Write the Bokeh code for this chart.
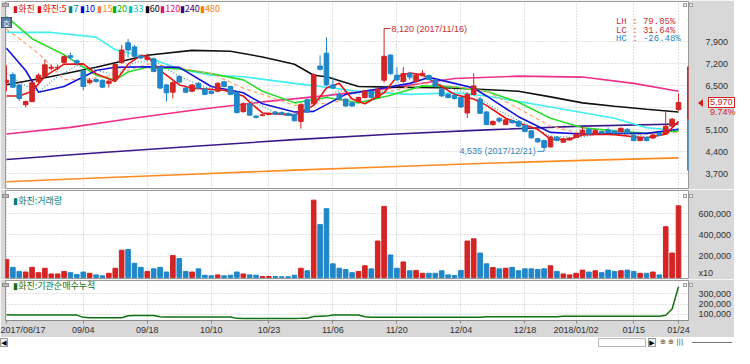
import numpy as np
from bokeh.plotting import figure
from bokeh.layouts import column
from bokeh.models import FixedTicker, Range1d, Label, Div, NumeralTickFormatter
from bokeh.embed import file_html
from bokeh.resources import INLINE

# ---------------- data ----------------
tick_idx = [0, 12, 22, 32, 41, 51, 61, 71, 81, 89, 98, 105]
tick_labels = ["2017/08/17", "09/04", "09/18", "10/10", "10/23", "11/06",
               "11/20", "12/04", "12/18", "2018/01/02", "01/15", "01/24"]

opens = [6610, 6860, 6530, 5900, 6000, 6630, 6800, 7060, 7070, 7240,
         7460, 7300, 6980, 6600, 6700, 6680, 6580, 6700, 7240, 7870,
         7740, 7440, 7340, 7360, 7080, 6530, 6300, 6800, 6430, 6330,
         6580, 6400, 6330, 6330, 6630, 6480, 6280, 5680, 5930, 5540,
         5560, 5590, 5670, 5650, 5620, 5590, 5370, 6060, 5930, 7130,
         7540, 6530, 6230, 6080, 5960, 6000, 6130, 6330, 6130, 6680,
         7480, 6840, 6640, 6900, 6640, 6840, 6830, 6690, 6400, 6230,
         6200, 6130, 5640, 6230, 6080, 5670, 5270, 5470, 5270, 5400,
         5370, 5240, 5070, 4820, 4760, 4560, 4870, 4710, 4780, 4860,
         4990, 5120, 4970, 5050, 5100, 5060, 5050, 5120, 4920, 4760,
         4860, 4840, 4990, 4970, 5220, 5750]
highs = [7150, 6930, 6560, 6030, 6640, 6900, 7330, 7180, 7180, 7470,
         7560, 7340, 7000, 6750, 6760, 6700, 6700, 7220, 7800, 7990,
         7800, 7480, 7520, 7400, 7100, 6560, 6650, 6850, 6480, 6560,
         6620, 6430, 6360, 6620, 6650, 6500, 6330, 5980, 5960, 5560,
         5620, 5650, 5700, 5690, 5660, 5620, 5950, 6100, 6900, 7470,
         8040, 6780, 6300, 6100, 6000, 6160, 6380, 6350, 6450, 8120,
         7500, 7100, 7100, 6950, 6900, 7000, 6860, 6720, 6430, 6260,
         6220, 6150, 6300, 6900, 6150, 5700, 5400, 5500, 5450, 5430,
         5400, 5260, 5090, 4850, 4790, 4900, 4900, 4840, 4870, 5000,
         5190, 5150, 5120, 5080, 5180, 5090, 5180, 5150, 4940, 4880,
         4880, 4970, 5010, 5690, 5480, 6260]
lows = [6330, 6430, 6020, 5820, 5980, 6600, 6780, 6990, 7000, 7200,
        7350, 7150, 6360, 6550, 6600, 6430, 6450, 6680, 7200, 7400,
        7400, 7340, 7300, 6930, 6400, 6000, 6100, 6580, 6260, 6300,
        6400, 6200, 6230, 6300, 6450, 6200, 5620, 5650, 5540, 5460,
        5530, 5560, 5580, 5580, 5540, 5370, 5140, 5640, 5900, 6980,
        6500, 6400, 6050, 5830, 5840, 5980, 6100, 6100, 6100, 6600,
        6850, 6650, 6600, 6700, 6600, 6800, 6680, 6450, 6150, 6100,
        6060, 5800, 5480, 6200, 5600, 5250, 5230, 5330, 5250, 5300,
        5200, 5020, 4820, 4690, 4535, 4540, 4740, 4690, 4760, 4840,
        4970, 4950, 4950, 4980, 5000, 4980, 5030, 4990, 4740, 4740,
        4740, 4820, 4910, 4950, 5200, 5700]
closes = [6680, 6460, 6100, 6000, 6600, 6840, 7170, 7090, 7090, 7430,
          7410, 7240, 6480, 6680, 6640, 6460, 6650, 7180, 7640, 7640,
          7440, 7390, 7420, 6960, 6430, 6280, 6600, 6620, 6300, 6530,
          6430, 6230, 6260, 6580, 6480, 6230, 5650, 5930, 5570, 5500,
          5580, 5610, 5600, 5600, 5560, 5390, 5900, 5670, 6860, 7030,
          6530, 6430, 6080, 5860, 5860, 6130, 6330, 6130, 6400, 7440,
          6890, 6690, 6890, 6780, 6840, 6900, 6700, 6480, 6180, 6130,
          6100, 5830, 6230, 6500, 5630, 5270, 5370, 5380, 5420, 5330,
          5220, 5050, 4850, 4720, 4540, 4870, 4760, 4810, 4840, 4960,
          5090, 4970, 5090, 5000, 5020, 5000, 5150, 5010, 4760, 4850,
          4760, 4940, 4930, 5220, 5440, 5970]
volumes = [170000, 95000, 57000, 51000, 95000, 45000, 87000, 33000, 33000, 57000,
           45000, 27000, 51000, 39000, 24000, 15000, 39000, 87000, 257000, 263000,
           134000, 95000, 57000, 81000, 95000, 51000, 206000, 179000, 57000, 51000,
           81000, 21000, 15000, 24000, 15000, 21000, 51000, 33000, 24000, 21000,
           9000, 9000, 9000, 6000, 6000, 21000, 87000, 63000, 728000, 498000,
           648000, 128000, 87000, 75000, 45000, 57000, 110000, 81000, 343000, 669000,
           212000, 87000, 146000, 63000, 66000, 39000, 39000, 39000, 63000, 24000,
           18000, 66000, 343000, 364000, 230000, 128000, 93000, 81000, 87000, 95000,
           63000, 81000, 81000, 75000, 81000, 110000, 57000, 33000, 24000, 39000,
           69000, 51000, 63000, 45000, 69000, 57000, 63000, 69000, 57000, 39000,
           39000, 51000, 24000, 478000, 230000, 675000]
inst_cum = [95000, 94000, 94000, 94000, 94000, 93000, 93000, 93000, 94000, 94000,
            93000, 92000, 70000, 66000, 65000, 65000, 65000, 65000, 66000, 86000,
            89000, 89000, 89000, 88000, 76000, 74000, 74000, 74000, 74000, 74000,
            74000, 74000, 73000, 74000, 74000, 73000, 60000, 59000, 59000, 59000,
            59000, 59000, 59000, 59000, 59000, 59000, 60000, 62000, 78000, 80000,
            82000, 92000, 94000, 94000, 94000, 93000, 75000, 71000, 71000, 71000,
            71000, 71000, 71000, 71000, 71000, 71000, 71000, 71000, 71000, 71000,
            71000, 71000, 71000, 71000, 72000, 76000, 77000, 77000, 77000, 77000,
            77000, 77000, 77000, 77000, 77000, 77000, 77000, 80000, 80000, 80000,
            80000, 80000, 80000, 80000, 80000, 80000, 80000, 80000, 80000, 80000,
            80000, 80000, 80000, 91000, 152000, 370000]

ma5_x = [0, 2, 4, 6, 9, 12, 14, 17, 19, 21, 22, 24, 27, 29, 34, 37, 38, 40, 45, 48, 50, 52,
         54, 56, 59, 61, 63, 65, 68, 70, 73, 75, 78, 80, 83, 85, 88, 90, 93, 95, 98, 100, 103, 105]
ma5_y = [6180, 6180, 6330, 6800, 7190, 7200, 6890, 6640, 7190, 7470, 7440, 6990, 6530, 6430,
         6360, 6180, 5980, 5640, 5570, 5880, 6430, 6580, 6080, 5930, 6280, 6790, 6910, 6850,
         6480, 6230, 6080, 5880, 5470, 5320, 5120, 4810, 4800, 4940, 4960, 4950, 4880, 4850,
         4960, 5370]
ma7_x = [0, 3, 5, 8, 11, 14, 17, 20, 23, 27, 31, 35, 38, 42, 46, 49, 52, 56, 59, 62, 65, 69,
         73, 77, 81, 85, 89, 93, 97, 101, 105]
ma7_y = [6900, 6500, 6300, 6800, 7150, 7000, 6850, 7250, 7300, 6800, 6450, 6350, 6050, 5650,
         5600, 6050, 6350, 6200, 6350, 6700, 6800, 6450, 6200, 5700, 5300, 4900, 4850, 4980,
         4980, 4860, 5150]
ma10_x = [0, 3, 5, 9, 14, 17, 22, 27, 32, 37, 40, 45, 48, 53, 58, 63, 66, 70, 73, 75, 80, 85,
          90, 95, 100, 105]
ma10_y = [7700, 6990, 6300, 6480, 6990, 7090, 7110, 7090, 6480, 6280, 5930, 5670, 5690, 6230,
          6400, 6580, 6770, 6580, 6430, 6180, 5520, 5020, 4970, 4990, 4990, 5120]
ma15_x = [0, 4, 6, 9, 12, 17, 22, 27, 32, 37, 40, 45, 50, 55, 60, 65, 70, 75, 80, 85, 90, 95,
          100, 105]
ma15_y = [8300, 7700, 7340, 6700, 6700, 6850, 7200, 7080, 6890, 6430, 6230, 5880, 5950, 6130,
          6330, 6580, 6480, 6330, 5780, 5220, 4970, 4950, 4970, 5020]
ma20_x = [0, 4, 9, 14, 17, 19, 22, 27, 32, 37, 40, 45, 50, 55, 60, 65, 70, 73, 75, 80, 85, 90,
          95, 100, 105]
ma20_y = [8700, 8000, 7490, 6840, 6690, 6940, 7090, 7040, 6890, 6690, 6330, 5960, 6130, 5960,
          6200, 6500, 6470, 6380, 6330, 5980, 5470, 5170, 5070, 4990, 5070]
ma33_x = [0, 7, 14, 17, 22, 27, 32, 37, 45, 55, 63, 70, 75, 85, 95, 100, 105]
ma33_y = [8200, 8200, 8050, 7650, 7410, 7040, 6840, 6790, 6580, 6330, 6230, 6280, 6180, 5830,
          5470, 5170, 5090]
ma60_x = [0, 7, 14, 22, 29, 35, 40, 45, 48, 50, 55, 60, 68, 73, 80, 85, 90, 95, 100, 105]
ma60_y = [6535, 6800, 7090, 7475, 7630, 7600, 7420, 7190, 6840, 6790, 6480, 6460, 6440, 6400,
          6330, 6150, 5960, 5850, 5755, 5670]
ma120_x = [0, 10, 20, 30, 40, 50, 60, 70, 80, 90, 98, 105]
ma120_y = [4970, 5180, 5480, 5750, 5990, 6190, 6430, 6735, 6810, 6780, 6580, 6330]
ma240_x = [0, 15, 30, 45, 60, 75, 90, 105]
ma240_y = [4160, 4380, 4590, 4790, 4960, 5100, 5220, 5290]
ma480_x = [0, 15, 30, 45, 60, 75, 90, 105]
ma480_y = [3450, 3580, 3700, 3820, 3930, 4040, 4130, 4210]

price_ticks = [3700, 4400, 5100, 5800, 6500, 7200, 7900]
vol_ticks = [200000, 400000, 600000]
inst_ticks = [100000, 200000, 300000]
period_high, period_low, last_close = 8120, 4535, 5970
change_pct = "9.74%"
range_bar = [7120, 5420, 3810]

# ---------------- helpers (reference-pixel -> data, for annotation placement) ----
def rx(px):
    return (px - 6) / 6.616

def rp(py):
    return 7900 - (py - 43.3) * 30.34

def rv(py):
    return (289.9 - py) / 22.2 * 200000

def ri(py):
    return 100000 + (331 - py) / 11.5 * 100000

RED = "#d42424"
BLUE = "#1f87c8"
GRID = "#c4c4c4"
BORDER = "#d8d8d8"
NUMFONT = "Liberation Sans"
KFONT = "Noto Sans CJK KR"

W = 734
H1, H2, H3, H4 = 189, 90, 58, 11
xr = Range1d(rx(5), rx(711))
idx = np.arange(len(closes))
o = np.array(opens); c = np.array(closes); h = np.array(highs); l = np.array(lows)
up = c >= o
colors = np.where(up, RED, BLUE)


def make_fig(height, yr, top, bottom):
    p = figure(width=W, height=height, x_range=xr, y_range=yr, output_backend="svg",
               toolbar_location=None, y_axis_location="right",
               min_border_left=5, min_border_right=37, min_border_top=top,
               min_border_bottom=bottom)
    p.border_fill_color = BORDER
    p.background_fill_color = "white"
    p.outline_line_color = "#9a9a9a"
    p.yaxis.axis_line_color = None
    p.yaxis.major_tick_line_color = None
    p.yaxis.minor_tick_line_color = None
    p.yaxis.major_label_text_font = NUMFONT
    p.yaxis.major_label_text_font_size = "9px"
    p.yaxis.major_label_text_color = "#303030"
    p.yaxis.formatter = NumeralTickFormatter(format="0,0")
    p.xgrid.ticker = FixedTicker(ticks=tick_idx)
    for g in (p.xgrid, p.ygrid):
        g.grid_line_color = GRID
        g.grid_line_dash = "1 2"
    return p

# ---------------- price panel ----------------
yr1 = Range1d(rp(197), rp(1))
p1 = make_fig(H1, yr1, 1, 1)
p1.xaxis.visible = False
p1.yaxis.ticker = FixedTicker(ticks=price_ticks)
p1.ygrid.ticker = FixedTicker(ticks=price_ticks)
p1.yaxis.major_label_standoff = 11
p1.yaxis.major_label_overrides = {5800: ""}

p1.line(ma480_x, ma480_y, line_color="#ff8a20", line_width=1.6)
p1.line(ma240_x, ma240_y, line_color="#3a1a8a", line_width=1.6)
p1.line(ma120_x, ma120_y, line_color="#f0308a", line_width=1.6)
p1.line(ma60_x, ma60_y, line_color="#111111", line_width=1.6)
p1.line(ma33_x, ma33_y, line_color="#3ef0f0", line_width=1.6)
p1.line(ma20_x, ma20_y, line_color="#30dc30", line_width=1.6)
p1.line(ma15_x, ma15_y, line_color="#ffa070", line_width=1.2, line_dash="4 3")
p1.line(ma10_x, ma10_y, line_color="#1414d8", line_width=1.6)
p1.line(ma7_x, ma7_y, line_color="#409a9a", line_width=1.2, line_dash="1 2")
p1.line(ma5_x, ma5_y, line_color="#e81414", line_width=1.6)

p1.segment(x0=idx, y0=l, x1=idx, y1=h, line_color=colors, line_width=1)
p1.vbar(x=idx, width=0.72, top=np.maximum(o, c), bottom=np.minimum(o, c),
        fill_color=colors, line_color=colors)

# range bar at right edge
p1.quad(left=[rx(709.5)], right=[rx(713)], top=[range_bar[0]], bottom=[range_bar[1]],
        fill_color="#c82020", line_color=None)
p1.quad(left=[rx(709.5)], right=[rx(713)], top=[range_bar[1]], bottom=[range_bar[2]],
        fill_color="#2a8cc8", line_color=None)

# high / low markers
hi_i = int(np.argmax(h)); lo_i = int(np.argmin(l))
p1.line([hi_i, hi_i, rx(403)], [period_high, rp(29.3), rp(29.3)], line_color="#c83030", line_width=1)
p1.add_layout(Label(x=rx(404), y=rp(29.3), text="8,120 (2017/11/16)", text_font=NUMFONT,
                    text_font_size="9px", text_color="#c83030", text_baseline="middle"))
p1.line([rx(555), lo_i, lo_i], [rp(158), rp(158), period_low], line_color="#2f86c0", line_width=1)
p1.add_layout(Label(x=rx(553), y=rp(158), text="4,535 (2017/12/21)", text_font=NUMFONT,
                    text_font_size="9px", text_color="#2f86c0", text_baseline="middle",
                    text_align="right"))

# LH / LC / HC
for txt, py, col in [("LH :  79.05%", 23, "#d03030"), ("LC :  31.64%", 32, "#d03030"),
                     ("HC : -26.48%", 40.5, "#2f86c0")]:
    p1.add_layout(Label(x=rx(703), y=rp(py), text=txt, text_font="Liberation Mono",
                        text_font_size="9px", text_color=col, text_baseline="middle",
                        text_align="right"))

# legend
legend_items = [("▮화진", 13, "#d01818"), ("▮화진:5", 38, "#e00000"), ("▮7", 70, "#008080"),
                ("▮10", 82, "#0000e0"), ("▮15", 100, "#ff7f40"), ("▮20", 115, "#00b400"),
                ("▮33", 132, "#00c4c4"), ("▮60", 149, "#000000"), ("▮120", 165, "#e0107a"),
                ("▮240", 185, "#400080"), ("▮480", 206, "#ff8000")]
for txt, px, col in legend_items:
    p1.add_layout(Label(x=rx(px), y=rp(8), text=txt, text_font=KFONT, text_font_size="9px",
                        text_color=col, text_baseline="middle"))

# ---------------- volume panel ----------------
p2 = make_fig(H2, Range1d(rv(291), rv(199)), 1, 1)
p2.xaxis.visible = False
p2.yaxis.ticker = FixedTicker(ticks=[44000] + vol_ticks)
p2.yaxis.major_label_overrides = {44000: "x10"}
p2.ygrid.ticker = FixedTicker(ticks=vol_ticks)
p2.yaxis.major_label_standoff = 4
p2.vbar(x=idx, width=0.72, top=volumes, bottom=0, fill_color=colors, line_color=colors)
p2.add_layout(Label(x=rx(13), y=rv(209.5), text="▮화진:거래량", text_font=KFONT,
                    text_font_size="9px", text_color="#007c7c", text_baseline="middle"))

# ---------------- institution panel ----------------
p3 = make_fig(H3, Range1d(ri(338), ri(293)), 1, 14)
p3.yaxis.ticker = FixedTicker(ticks=inst_ticks)
p3.ygrid.ticker = FixedTicker(ticks=inst_ticks)
p3.yaxis.major_label_standoff = 4
p3.line(idx, inst_cum, line_color="#107010", line_width=1.5)
p3.add_layout(Label(x=rx(13), y=ri(298.5), text="▮화진:기관순매수누적", text_font=KFONT,
                    text_font_size="9px", text_color="#107010", text_baseline="middle"))
p3.xaxis.ticker = FixedTicker(ticks=tick_idx)
p3.xaxis.major_label_overrides = {i: t for i, t in zip(tick_idx, tick_labels)}
p3.xaxis.major_label_text_align = "left"
p3.xaxis.major_label_text_font = NUMFONT
p3.xaxis.major_label_text_font_size = "9px"
p3.xaxis.major_label_text_color = "#303030"
p3.xaxis.major_label_standoff = 1
p3.xaxis.major_tick_out = 3
p3.xaxis.major_tick_in = 0
p3.xaxis.minor_tick_line_color = None
p3.xaxis.axis_line_color = "#8a8a8a"
p3.xaxis.major_tick_line_color = "#8a8a8a"

# ---------------- overlay decorations (HTML, positioned over the canvas) ----------------
base = H1 + H2 + H3          # top of the bottom bar in layout pixels
frac = (yr1.end - last_close) / (yr1.end - yr1.start)
cy = int(round(1 + frac * (H1 - 2)))     # layout y of the last close


def span(left, top, style, content=""):
    return ('<span style="position:absolute;left:%dpx;top:%dpx;%s">%s</span>'
            % (left, top - base, style, content))

deco = []
# panel icons (left) and buttons (right)
for ptop in (2, H1 + 4, H1 + H2 + 3):
    deco.append(span(2, ptop, "width:7px;height:4px;background:#b4b4b4;border:1px solid #909090;"))
    deco.append(span(683, ptop, "width:4px;height:4px;border:1px solid #a0a0a0;background:#eee;"))
    deco.append(span(689, ptop, "width:4px;height:4px;border:1px solid #a0a0a0;background:#eee;"))
deco.append(span(1, 16, "width:11px;height:11px;background:#5a7ca4;border:1px solid #3a5a84;"
                 "color:#fff;font-family:'Noto Sans CJK KR';font-size:8px;line-height:11px;"
                 "text-align:center;z-index:5;", "호"))
deco.append(span(698, cy - 4, "width:0;height:0;border-top:4px solid transparent;"
                 "border-bottom:4px solid transparent;border-right:5px solid #d02020;"))
deco.append(span(708, cy - 6, "color:#d02020;font-family:'Liberation Sans';"
                 "font-size:9px;line-height:9px;border:1px solid #d02020;background:#fff;"
                 "padding:0 1px;", "{:,}".format(last_close)))
deco.append(span(710, cy + 5, "color:#d02020;font-family:'Liberation Sans';"
                 "font-size:9px;line-height:9px;", change_pct))

bottom_row = ('<span style="position:absolute;left:0;top:0;width:8px;height:9px;'
              'border:1px solid #9a9a9a;background:#f0f0f0;text-align:center;">&#9664;</span>'
              '<span style="position:absolute;left:598px;top:0;width:48px;height:9px;'
              'border:1px solid #b8b8b8;"></span>'
              '<span style="position:absolute;left:648px;top:0;width:8px;height:9px;'
              'border:1px solid #9a9a9a;background:#f0f0f0;text-align:center;">&#9654;</span>'
              '<span style="position:absolute;left:660px;top:0;color:#444;">&#8853; &#8853; |||</span>'
              '<span style="position:absolute;left:692px;top:4px;width:40px;height:1px;'
              'background:#777;"></span>')

bar = Div(width=W, height=H4, margin=(0, 0, 0, 0),
          styles={"overflow": "visible", "z-index": "10"},
          text='<div style="position:relative;width:734px;height:11px;background:#fff;'
               'font-family:DejaVu Sans;font-size:7px;line-height:9px;overflow:visible;">'
               + bottom_row + "".join(deco) + '</div>')

layout = column(p1, p2, p3, bar, spacing=0)
open("out.html", "w").write(file_html(layout, INLINE))
